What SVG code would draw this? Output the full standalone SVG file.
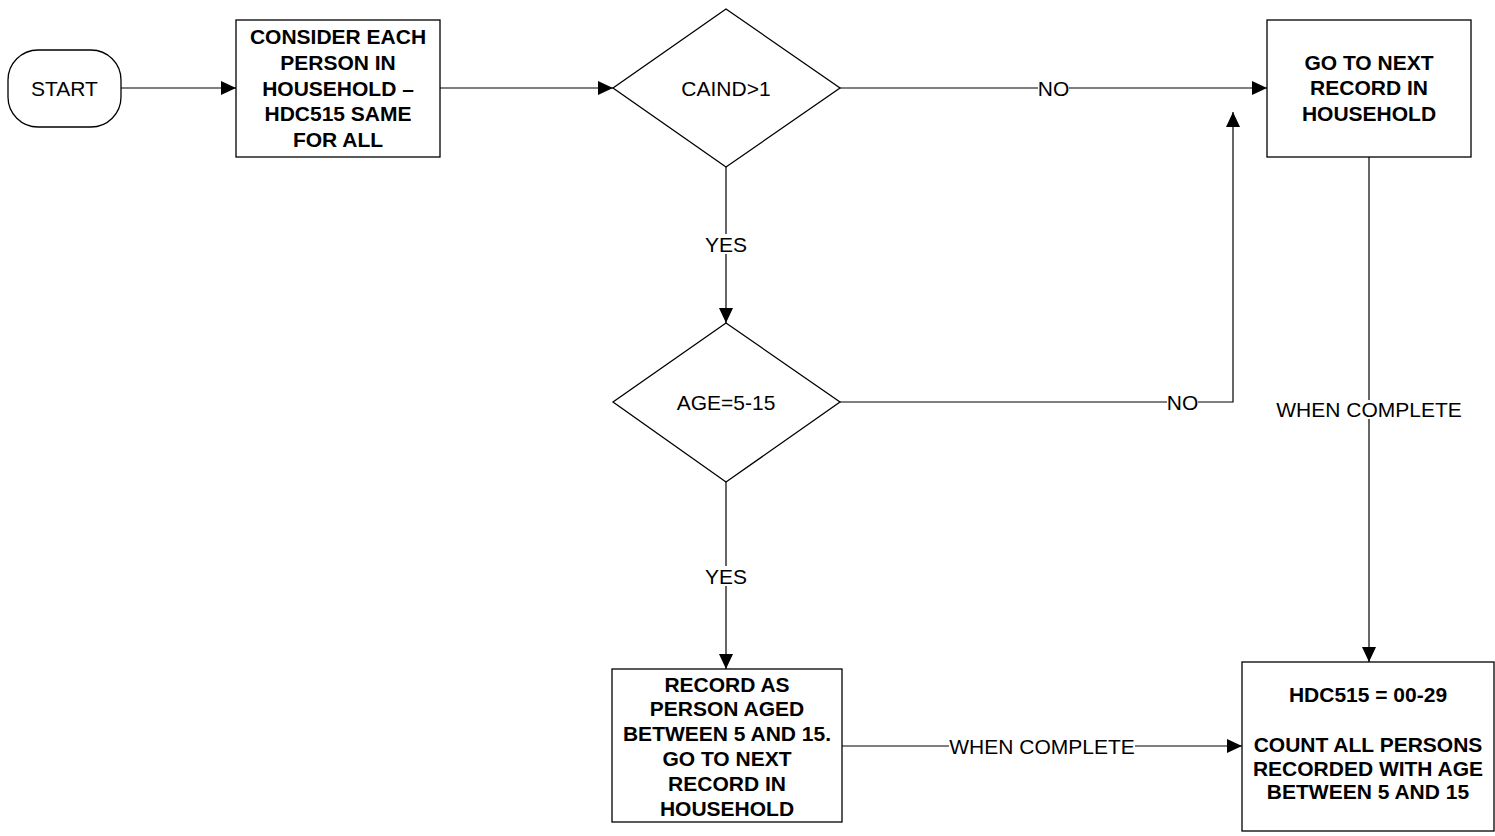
<svg xmlns="http://www.w3.org/2000/svg" width="1495" height="836" viewBox="0 0 1495 836">
<style>
.shape{fill:#fff;stroke:#000;stroke-width:1.3}
.con{fill:none;stroke:#000;stroke-width:1.2}
text{font-family:"Liberation Sans",Arial,sans-serif;font-size:21px;fill:#000;text-anchor:middle}
.b{font-weight:bold}
.lbg{fill:#fff;stroke:none}
</style>
<defs>
<marker id="arr" markerUnits="userSpaceOnUse" markerWidth="15" markerHeight="14" refX="15" refY="7" orient="auto">
<path d="M0,0 L15,7 L0,14 z" fill="#000"/>
</marker>
</defs>
<rect width="1495" height="836" fill="#fff"/>
<g id="connectors">
<line class="con" x1="121" y1="88" x2="236" y2="88" marker-end="url(#arr)"/>
<line class="con" x1="440" y1="88" x2="613" y2="88" marker-end="url(#arr)"/>
<line class="con" x1="840" y1="88" x2="1267" y2="88" marker-end="url(#arr)"/>
<line class="con" x1="726" y1="167" x2="726" y2="323" marker-end="url(#arr)"/>
<polyline class="con" points="840,402 1233,402 1233,112" marker-end="url(#arr)"/>
<line class="con" x1="726" y1="482" x2="726" y2="669" marker-end="url(#arr)"/>
<line class="con" x1="842" y1="746" x2="1242" y2="746" marker-end="url(#arr)"/>
<line class="con" x1="1369" y1="157" x2="1369" y2="662" marker-end="url(#arr)"/>
<rect class="lbg" x="1038" y="78" width="31" height="20"/>
<text x="1053.5" y="95.5">NO</text>
<rect class="lbg" x="1167" y="392" width="31" height="20"/>
<text x="1182.5" y="409.5">NO</text>
<rect class="lbg" x="704" y="234" width="44" height="20"/>
<text x="726" y="251.5">YES</text>
<rect class="lbg" x="704" y="566" width="44" height="20"/>
<text x="726" y="583.5">YES</text>
<rect class="lbg" x="949" y="736" width="186" height="20"/>
<text x="1042" y="753.5">WHEN COMPLETE</text>
<rect class="lbg" x="1276" y="400" width="186" height="19"/>
<text x="1369" y="416.5">WHEN COMPLETE</text>
</g>
<g id="start">
<rect class="shape" x="8" y="50" width="113" height="77" rx="30" ry="30"/>
<text x="64.5" y="95.5">START</text>
</g>
<g id="consider">
<rect class="shape" x="236" y="20" width="204" height="137"/>
<text class="b" x="338" y="44">CONSIDER EACH</text>
<text class="b" x="338" y="70">PERSON IN</text>
<text class="b" x="338" y="96">HOUSEHOLD –</text>
<text class="b" x="338" y="121">HDC515 SAME</text>
<text class="b" x="338" y="147">FOR ALL</text>
</g>
<g id="caind">
<polygon class="shape" points="726,9 840,88 726,167 613,88"/>
<text x="726" y="95.5">CAIND&gt;1</text>
</g>
<g id="next">
<rect class="shape" x="1267" y="20" width="204" height="137"/>
<text class="b" x="1369" y="70">GO TO NEXT</text>
<text class="b" x="1369" y="95">RECORD IN</text>
<text class="b" x="1369" y="121">HOUSEHOLD</text>
</g>
<g id="age">
<polygon class="shape" points="726,323 840,402 726,482 613,402"/>
<text x="726" y="409.5">AGE=5-15</text>
</g>
<g id="record">
<rect class="shape" x="612" y="669" width="230" height="153"/>
<text class="b" x="727" y="692">RECORD AS</text>
<text class="b" x="727" y="716">PERSON AGED</text>
<text class="b" x="727" y="741">BETWEEN 5 AND 15.</text>
<text class="b" x="727" y="766">GO TO NEXT</text>
<text class="b" x="727" y="791">RECORD IN</text>
<text class="b" x="727" y="816">HOUSEHOLD</text>
</g>
<g id="count">
<rect class="shape" x="1242" y="662" width="252" height="169"/>
<text class="b" x="1368" y="702">HDC515 = 00-29</text>
<text class="b" x="1368" y="752">COUNT ALL PERSONS</text>
<text class="b" x="1368" y="776">RECORDED WITH AGE</text>
<text class="b" x="1368" y="799">BETWEEN 5 AND 15</text>
</g>
</svg>
